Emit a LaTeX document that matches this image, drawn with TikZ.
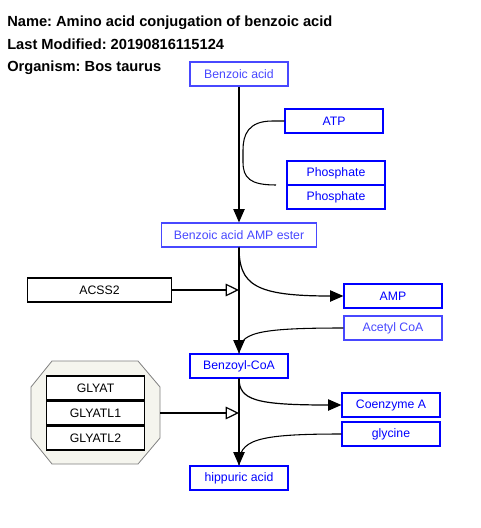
\documentclass[tikz,border=0pt]{standalone}
\usepackage{fontspec}
\setmainfont{Liberation Sans}
\usetikzlibrary{arrows.meta,calc}
\frenchspacing

\definecolor{metblue}{RGB}{0,0,255}
\definecolor{metpale}{RGB}{72,72,255}
\definecolor{octfill}{RGB}{245,245,238}

\tikzset{
	metab/.style={draw=metblue, text=metblue, line width=0.9pt, fill=white,
		minimum width=73.5pt, minimum height=18pt, inner sep=0pt, font=\fontsize{9.2}{11}\selectfont},
	metabpale/.style={metab, draw=metpale, text=metpale},
	gene/.style={draw=black, line width=0.9pt, fill=white, minimum width=74pt,
		minimum height=18pt, inner sep=0pt, font=\fontsize{9.2}{11}\selectfont},
	conv/.style={line width=0.9pt, -{Triangle[length=10pt,width=8.5pt]}},
	catal/.style={line width=0.9pt, -{Triangle[open,length=10pt,width=9.5pt,fill=white]}},
	side/.style={line width=0.8pt},
	title/.style={anchor=base west, inner sep=0pt, font=\bfseries\fontsize{11}{13}\selectfont}
}

\begin{document}
\begin{tikzpicture}[x=0.75pt, y=-0.75pt]
	\useasboundingbox (0,0) rectangle (480,528);

	% header
	\node[title] (name) at (7,27) {Name: Amino acid conjugation of benzoic acid};
	\node[title] (mod) at (7,50) {Last Modified: 20190816115124};
	\node[title] (org) at (7,72) {Organism: Bos taurus};

	% complex
	\draw[gray, fill=octfill, line width=0.6pt] (52,361) -- (138,361) -- (160,387) -- (160,438) -- (138,464)
		-- (52,464) -- (31,438) -- (31,387) -- cycle;

	% metabolites
	\node[metabpale] (benz) at (239,74) {Benzoic acid};
	\node[metab] (atp) at (334,121) {ATP};
	\node[metab] (pi1) at (336,173) {Phosphate};
	\node[metab] (pi2) at (336,197) {Phosphate};
	\node[metabpale, minimum width=116pt] (ester) at (239,235) {Benzoic acid AMP ester};
	\node[metab] (amp) at (393,296) {AMP};
	\node[metabpale] (acoa) at (393,328) {Acetyl CoA};
	\node[metab] (bcoa) at (239,366) {Benzoyl-CoA};
	\node[metab] (coa) at (391,405) {Coenzyme A};
	\node[metab] (gly) at (391,434) {glycine};
	\node[metab] (hipp) at (239,478) {hippuric acid};

	% genes
	\node[gene, minimum width=108pt] (acss) at (99.5,290) {ACSS2};
	\node[gene] (glyat) at (95.5,388) {GLYAT};
	\node[gene] (glyatl1) at (95.5,413) {GLYATL1};
	\node[gene] (glyatl2) at (95.5,438) {GLYATL2};

	% anchors on the main line
	\coordinate (pend) at (276,185);
	\coordinate (c1) at (239,290);
	\coordinate (c2) at (239,413);

	% reactions
	\draw[conv] (benz) -- (ester);
	\draw[side] (atp.west) -- ++(-12,0) .. controls (248,121) and (243,135) .. (243,150)
		-- (243,162) .. controls (243,178) and (250,185) .. (pend);
	\draw[conv] (ester) -- (bcoa);
	\draw[conv] (239,247) .. controls (239,285) and (255,296) .. (amp.west);
	\draw[side] (acoa.west) .. controls (255,328) and (239,333) .. (bcoa.north);
	\draw[catal] (acss.east) -- (c1);

	\draw[conv] (bcoa) -- (hipp);
	\draw[conv] (239,378) .. controls (239,400) and (255,405) .. (coa.west);
	\draw[side] (gly.west) .. controls (255,434) and (239,440) .. (239,465);
	\draw[catal] (160,413) -- (c2);
\end{tikzpicture}
\end{document}
